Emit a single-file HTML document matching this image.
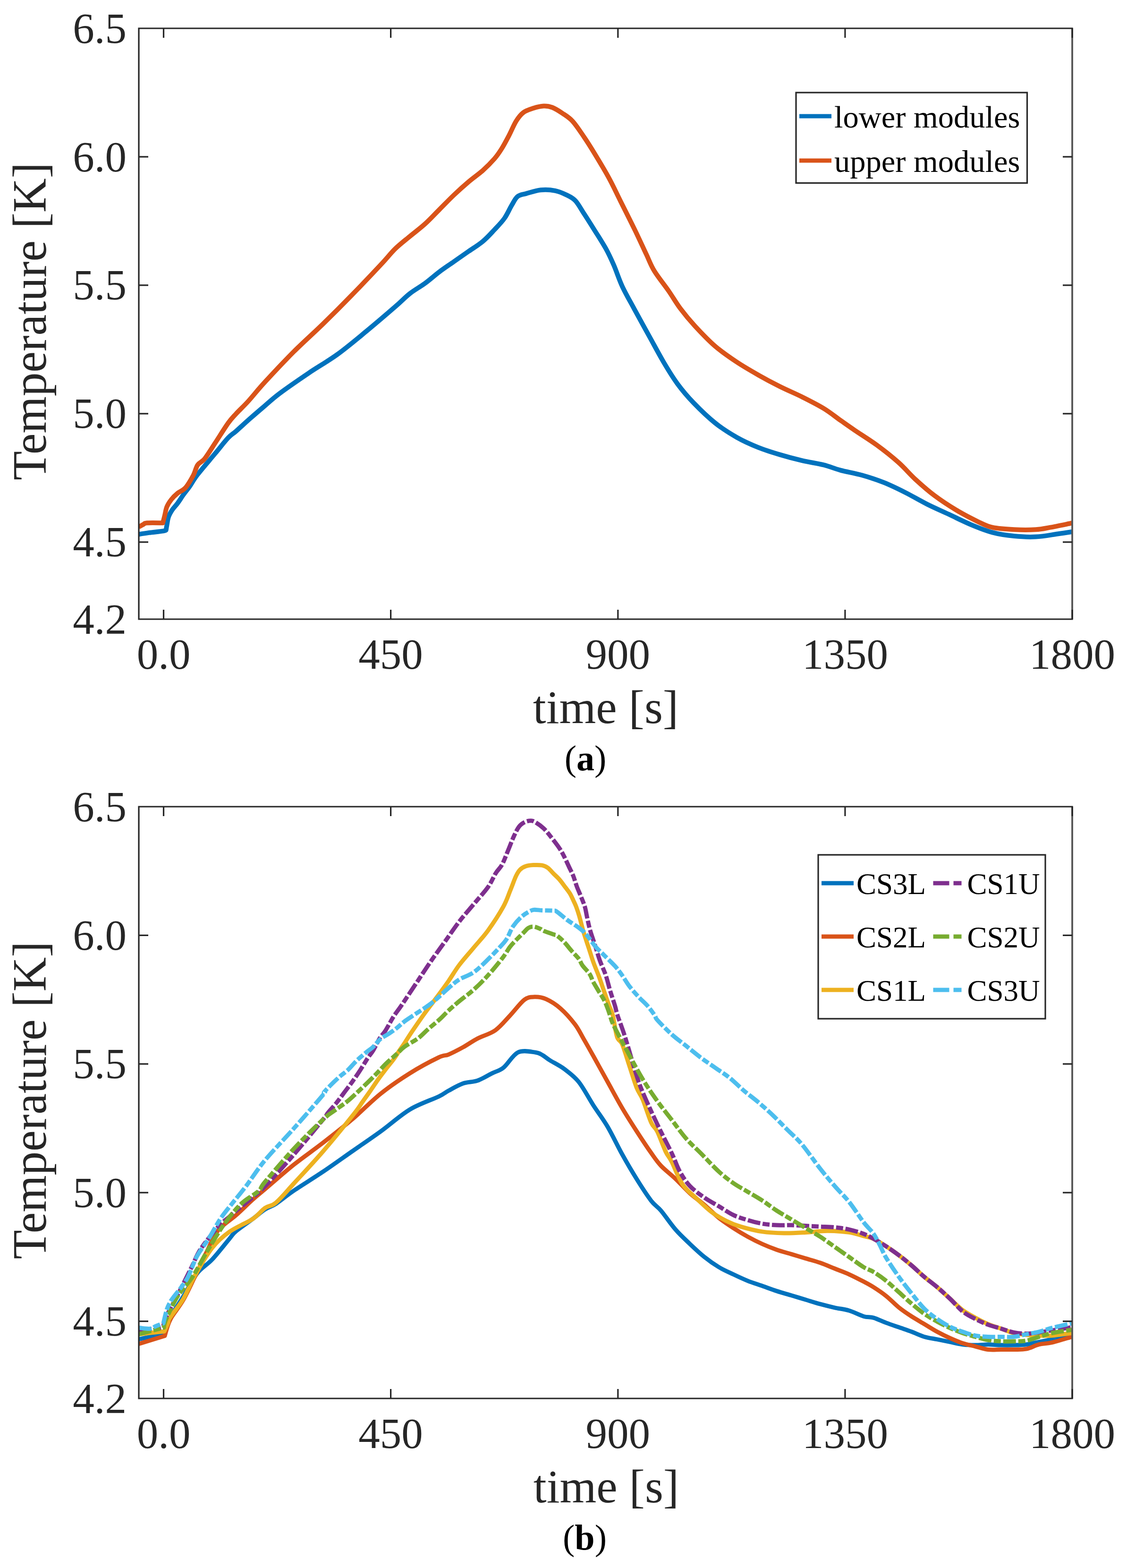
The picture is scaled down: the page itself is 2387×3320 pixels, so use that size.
<!DOCTYPE html>
<html><head><meta charset="utf-8"><title>Temperature plots</title>
<style>
html,body{margin:0;padding:0;background:#fff;}
svg{display:block;}
.t{font-family:"Liberation Serif","Times New Roman",serif;}
</style></head>
<body>
<svg width="2387" height="3320" viewBox="0 0 2387 3320">
<rect width="2387" height="3320" fill="#fff"/>
<defs>
<clipPath id="ca"><rect x="294" y="60" width="1977" height="1251"/></clipPath>
<clipPath id="cb"><rect x="294" y="1708" width="1977" height="1253"/></clipPath>
</defs>
<!-- ===== plot (a) ===== -->
<g clip-path="url(#ca)" fill="none" stroke-width="10" stroke-linejoin="round" stroke-linecap="butt">
<path d="M294.0,1131.3 C297.6,1130.7 307.2,1129.1 315.8,1127.9 C324.4,1126.8 339.8,1125.4 345.8,1124.4 C351.8,1123.4 351.8,1121.9 351.8,1121.9 C351.8,1121.9 352.6,1116.1 353.5,1111.5 C354.4,1106.9 355.1,1099.7 357.0,1094.4 C358.9,1089.1 361.6,1084.5 364.7,1079.8 C367.8,1075.1 371.8,1071.4 375.8,1066.0 C379.8,1060.6 384.4,1053.2 388.7,1047.2 C393.0,1041.2 396.6,1037.1 401.6,1030.0 C406.6,1022.9 409.7,1016.1 418.7,1004.5 C427.7,992.9 444.8,973.3 455.5,960.4 C466.2,947.5 475.7,935.1 483.1,927.2 C490.5,919.3 492.1,919.9 500.0,912.9 C507.9,905.9 521.2,893.6 530.7,885.3 C540.2,877.0 546.5,871.6 556.7,862.9 C566.9,854.2 575.9,845.3 592.0,833.2 C608.1,821.1 632.9,804.1 653.3,790.3 C673.7,776.5 694.2,765.2 714.6,750.4 C735.0,735.6 755.5,718.2 775.9,701.4 C796.3,684.5 821.9,662.6 837.2,649.3 C852.5,636.0 857.4,629.9 867.9,621.7 C878.4,613.5 889.5,607.7 900.0,600.0 C910.5,592.3 920.5,583.2 930.7,575.5 C940.9,567.8 951.1,561.2 961.3,554.0 C971.5,546.8 981.8,539.6 992.0,532.5 C1002.2,525.4 1013.4,518.8 1022.6,511.1 C1031.8,503.5 1039.4,494.8 1047.1,486.6 C1054.8,478.4 1062.5,470.7 1068.6,462.0 C1074.7,453.3 1079.3,442.0 1083.9,434.4 C1088.5,426.8 1091.1,420.2 1096.2,416.1 C1101.3,412.0 1106.4,412.2 1114.6,409.9 C1122.8,407.6 1135.0,403.3 1145.2,402.3 C1155.4,401.3 1166.7,402.0 1175.9,403.8 C1185.1,405.6 1193.2,409.4 1200.4,413.0 C1207.6,416.6 1212.7,418.6 1218.8,425.2 C1224.9,431.8 1230.5,442.6 1237.2,452.8 C1243.9,463.0 1251.0,474.3 1258.7,486.6 C1266.4,498.9 1276.3,514.0 1283.2,526.4 C1290.1,538.8 1294.1,547.8 1300.0,561.3 C1305.9,574.8 1311.2,592.0 1318.4,607.3 C1325.6,622.6 1333.2,635.4 1342.9,653.3 C1352.6,671.2 1365.9,695.2 1376.6,714.6 C1387.3,734.0 1397.6,753.4 1407.3,769.8 C1417.0,786.1 1424.7,798.9 1434.9,812.7 C1445.1,826.5 1455.3,838.7 1468.6,852.5 C1481.9,866.3 1499.3,883.2 1514.6,895.5 C1529.9,907.8 1545.3,917.4 1560.6,926.1 C1575.9,934.8 1591.3,941.5 1606.6,947.6 C1621.9,953.7 1637.2,958.3 1652.5,962.9 C1667.8,967.5 1683.2,971.6 1698.5,975.2 C1713.8,978.8 1730.9,981.0 1744.5,984.4 C1758.1,987.8 1766.4,992.0 1780.0,995.6 C1793.6,999.2 1810.7,1001.9 1826.0,1006.3 C1841.3,1010.6 1856.7,1015.6 1872.0,1021.7 C1887.3,1027.8 1902.7,1035.4 1918.0,1043.1 C1933.3,1050.8 1948.6,1060.0 1963.9,1067.7 C1979.2,1075.4 1994.6,1081.9 2009.9,1089.1 C2025.2,1096.2 2040.6,1104.2 2055.9,1110.6 C2071.2,1117.0 2086.6,1123.3 2101.9,1127.4 C2117.2,1131.5 2132.6,1133.6 2147.9,1135.1 C2163.2,1136.6 2178.6,1137.4 2193.9,1136.6 C2209.2,1135.8 2227.0,1132.3 2239.8,1130.5 C2252.6,1128.7 2265.4,1126.7 2270.5,1125.9" stroke="#0072BD"/>
<path d="M294.0,1115.8 C295.5,1115.0 300.0,1112.1 302.9,1110.7 C305.8,1109.3 304.5,1107.9 311.5,1107.3 C318.5,1106.7 344.9,1107.3 344.9,1107.3 C344.9,1107.3 347.8,1095.8 349.2,1090.1 C350.6,1084.4 351.2,1078.3 353.5,1072.9 C355.8,1067.5 359.3,1062.2 363.0,1057.5 C366.7,1052.8 370.8,1048.8 375.8,1044.6 C380.8,1040.4 387.4,1039.0 393.0,1032.6 C398.6,1026.2 405.2,1014.3 409.5,1006.3 C413.8,998.2 414.7,990.1 418.7,984.3 C422.7,978.5 427.4,979.1 433.5,971.4 C439.6,963.7 447.2,950.9 455.5,938.3 C463.8,925.7 475.7,906.4 483.1,896.0 C490.5,885.6 492.9,883.8 500.0,876.1 C507.1,868.4 515.2,861.2 525.4,850.0 C535.6,838.8 545.1,826.3 561.3,808.7 C577.5,791.1 602.2,764.7 622.6,744.3 C643.0,723.9 663.5,706.0 683.9,686.1 C704.3,666.2 724.8,645.7 745.2,624.7 C765.7,603.8 791.3,576.8 806.6,560.4 C821.9,544.0 827.0,536.6 837.2,526.6 C847.4,516.6 857.4,509.3 867.9,500.6 C878.4,491.9 889.5,483.8 900.0,474.3 C910.5,464.8 920.5,453.8 930.7,443.6 C940.9,433.4 951.1,422.7 961.3,413.0 C971.5,403.3 981.8,394.1 992.0,385.4 C1002.2,376.7 1013.4,369.1 1022.6,360.9 C1031.8,352.7 1040.4,344.0 1047.1,336.3 C1053.8,328.6 1057.4,323.1 1062.5,314.9 C1067.6,306.7 1072.7,297.0 1077.8,287.3 C1082.9,277.6 1088.0,264.8 1093.1,256.6 C1098.2,248.4 1102.4,242.8 1108.5,238.2 C1114.6,233.6 1122.8,231.3 1129.9,229.0 C1137.1,226.7 1144.8,224.8 1151.4,224.5 C1158.1,224.2 1163.2,224.9 1169.8,227.5 C1176.4,230.1 1184.0,235.0 1191.2,239.8 C1198.4,244.7 1205.0,248.2 1212.7,256.6 C1220.4,265.0 1229.5,279.1 1237.2,290.4 C1244.9,301.6 1250.0,309.8 1258.7,324.1 C1267.4,338.4 1280.1,359.4 1289.3,376.2 C1298.5,393.0 1304.7,406.8 1313.9,425.2 C1323.1,443.6 1335.3,467.7 1344.5,486.6 C1353.7,505.5 1362.1,524.2 1369.0,538.7 C1375.9,553.2 1377.9,560.6 1385.8,573.6 C1393.7,586.6 1407.3,603.2 1416.5,616.5 C1425.7,629.8 1431.8,641.0 1441.0,653.3 C1450.2,665.6 1459.4,676.8 1471.7,690.1 C1484.0,703.4 1499.8,720.2 1514.6,733.0 C1529.4,745.8 1545.3,756.5 1560.6,766.7 C1575.9,776.9 1591.3,785.6 1606.6,794.3 C1621.9,803.0 1637.2,811.1 1652.5,818.8 C1667.8,826.5 1683.2,832.6 1698.5,840.3 C1713.8,848.0 1730.9,856.5 1744.5,864.8 C1758.1,873.1 1769.0,882.1 1780.0,889.9 C1791.0,897.6 1797.9,902.6 1810.7,911.3 C1823.5,920.0 1841.3,930.8 1856.6,942.0 C1871.9,953.2 1888.8,966.5 1902.6,978.8 C1916.4,991.0 1926.6,1003.8 1939.4,1015.5 C1952.2,1027.2 1965.0,1038.6 1979.3,1049.3 C1993.6,1060.0 2009.9,1070.7 2025.2,1079.9 C2040.5,1089.1 2058.4,1098.3 2071.2,1104.4 C2084.0,1110.5 2089.1,1113.9 2101.9,1116.7 C2114.7,1119.5 2132.6,1120.5 2147.9,1121.3 C2163.2,1122.1 2181.1,1122.1 2193.9,1121.3 C2206.7,1120.5 2211.7,1119.0 2224.5,1116.7 C2237.3,1114.4 2262.8,1109.0 2270.5,1107.5" stroke="#D95319"/>
</g>
<g stroke="#262626" stroke-width="3.2" fill="none">
<line x1="2271" y1="60" x2="2271" y2="1311" stroke="#555" stroke-width="3.8"/>
<line x1="346.5" y1="1311" x2="346.5" y2="1291"/>
<line x1="346.5" y1="60" x2="346.5" y2="80"/>
<line x1="827.6" y1="1311" x2="827.6" y2="1291"/>
<line x1="827.6" y1="60" x2="827.6" y2="80"/>
<line x1="1308.8" y1="1311" x2="1308.8" y2="1291"/>
<line x1="1308.8" y1="60" x2="1308.8" y2="80"/>
<line x1="1789.9" y1="1311" x2="1789.9" y2="1291"/>
<line x1="1789.9" y1="60" x2="1789.9" y2="80"/>
<line x1="2271.0" y1="1311" x2="2271.0" y2="1291"/>
<line x1="2271.0" y1="60" x2="2271.0" y2="80"/>
<line x1="294" y1="1147.8" x2="314" y2="1147.8"/>
<line x1="2271" y1="1147.8" x2="2251" y2="1147.8"/>
<line x1="294" y1="875.9" x2="314" y2="875.9"/>
<line x1="2271" y1="875.9" x2="2251" y2="875.9"/>
<line x1="294" y1="603.9" x2="314" y2="603.9"/>
<line x1="2271" y1="603.9" x2="2251" y2="603.9"/>
<line x1="294" y1="332.0" x2="314" y2="332.0"/>
<line x1="2271" y1="332.0" x2="2251" y2="332.0"/>
<path d="M2272.6,60 H294 V1311 H2272.6" fill="none"/>
</g>
<g class="t" fill="#262626" font-size="91">
<text x="268" y="1341.5" text-anchor="end">4.2</text>
<text x="268" y="1178.3" text-anchor="end">4.5</text>
<text x="268" y="906.4" text-anchor="end">5.0</text>
<text x="268" y="634.4" text-anchor="end">5.5</text>
<text x="268" y="362.5" text-anchor="end">6.0</text>
<text x="268" y="90.5" text-anchor="end">6.5</text>
<text x="346.5" y="1416.0" text-anchor="middle">0.0</text>
<text x="827.6" y="1416.0" text-anchor="middle">450</text>
<text x="1308.8" y="1416.0" text-anchor="middle">900</text>
<text x="1789.9" y="1416.0" text-anchor="middle">1350</text>
<text x="2271.0" y="1416.0" text-anchor="middle">1800</text>
</g>
<text class="t" x="1283" y="1531" font-size="100" fill="#262626" text-anchor="middle">time [s]</text>
<text class="t" transform="translate(97,680.3) rotate(-90)" font-size="100.8" fill="#262626" text-anchor="middle">Temperature [K]</text>
<text class="t" x="1240" y="1631" font-size="76" fill="#000" text-anchor="middle">(<tspan font-weight="bold">a</tspan>)</text>
<!-- legend a -->
<rect x="1686" y="196" width="489.5" height="191.5" fill="#fff" stroke="#262626" stroke-width="3.2"/>
<line x1="1693" y1="246" x2="1761" y2="246" stroke="#0072BD" stroke-width="9.0"/>
<line x1="1693" y1="340" x2="1761" y2="340" stroke="#D95319" stroke-width="9.0"/>
<g class="t" font-size="66.5" fill="#000">
<text x="1767" y="270">lower modules</text>
<text x="1767" y="364">upper modules</text>
</g>
<!-- ===== plot (b) ===== -->
<g clip-path="url(#cb)" fill="none" stroke-width="9.0" stroke-linejoin="round" stroke-linecap="butt">
<path d="M294.0,2835.5 C303.2,2833.6 349.0,2824.0 349.0,2824.0 C349.0,2824.0 349.7,2810.1 356.2,2797.0 C362.7,2783.9 377.9,2762.0 388.1,2745.2 C398.3,2728.4 407.3,2709.3 417.5,2696.2 C427.7,2683.1 437.9,2679.1 449.4,2666.8 C460.8,2654.5 477.8,2632.6 486.2,2622.6 C494.6,2612.6 491.8,2613.8 500.0,2606.8 C508.2,2599.9 525.0,2588.6 535.2,2580.9 C545.4,2573.2 553.1,2566.1 561.3,2560.8 C569.5,2555.5 574.1,2555.7 584.3,2549.0 C594.5,2542.3 606.0,2532.2 622.6,2520.9 C639.2,2509.6 663.5,2494.9 683.9,2481.1 C704.3,2467.3 724.8,2452.5 745.2,2438.2 C765.7,2423.9 786.2,2410.1 806.6,2395.3 C827.0,2380.5 847.5,2361.6 867.9,2349.3 C888.3,2337.0 915.5,2328.3 929.2,2321.7 C942.9,2315.0 941.4,2314.0 950.0,2309.4 C958.6,2304.8 970.5,2297.7 980.7,2294.1 C990.9,2290.5 1001.1,2291.6 1011.3,2288.0 C1021.5,2284.4 1032.8,2277.2 1042.0,2272.6 C1051.2,2268.0 1057.3,2267.8 1066.5,2260.4 C1075.7,2253.0 1085.9,2233.6 1097.1,2228.2 C1108.3,2222.8 1125.2,2227.2 1133.9,2228.2 C1142.6,2229.2 1144.2,2231.5 1149.3,2234.3 C1154.4,2237.1 1156.9,2240.2 1164.6,2245.0 C1172.2,2249.8 1185.0,2255.7 1195.2,2263.4 C1205.4,2271.1 1215.7,2278.2 1225.9,2291.0 C1236.1,2303.8 1246.4,2324.2 1256.6,2340.1 C1266.8,2355.9 1277.0,2368.7 1287.2,2386.1 C1297.4,2403.5 1307.7,2425.9 1317.9,2444.3 C1328.1,2462.7 1338.3,2480.1 1348.5,2496.4 C1358.7,2512.8 1370.6,2531.2 1379.2,2542.4 C1387.8,2553.6 1391.4,2553.2 1400.0,2563.4 C1408.6,2573.6 1420.5,2591.6 1430.7,2603.3 C1440.9,2615.1 1451.1,2624.2 1461.3,2633.9 C1471.5,2643.6 1481.8,2653.3 1492.0,2661.5 C1502.2,2669.7 1512.4,2676.9 1522.6,2683.0 C1532.8,2689.1 1543.1,2693.5 1553.3,2698.3 C1563.5,2703.2 1573.7,2708.0 1583.9,2712.1 C1594.1,2716.2 1604.4,2719.2 1614.6,2722.8 C1624.8,2726.4 1635.0,2730.3 1645.2,2733.6 C1655.4,2736.9 1665.7,2739.7 1675.9,2742.8 C1686.1,2745.9 1696.4,2748.9 1706.6,2752.0 C1716.8,2755.1 1727.0,2758.4 1737.2,2761.2 C1747.4,2764.0 1757.7,2766.5 1767.9,2768.8 C1778.1,2771.1 1788.3,2771.9 1798.5,2775.0 C1808.7,2778.1 1820.6,2784.7 1829.2,2787.2 C1837.8,2789.7 1842.0,2787.8 1850.0,2790.1 C1858.0,2792.4 1868.0,2797.5 1877.0,2800.9 C1886.0,2804.3 1895.0,2807.2 1904.0,2810.3 C1913.0,2813.5 1921.9,2816.4 1930.9,2819.8 C1939.9,2823.2 1948.9,2827.8 1957.9,2830.5 C1966.9,2833.2 1975.9,2834.1 1984.9,2835.9 C1993.9,2837.7 2002.9,2839.5 2011.9,2841.3 C2020.9,2843.1 2029.8,2845.6 2038.8,2846.7 C2047.8,2847.8 2056.8,2848.1 2065.8,2848.1 C2074.8,2848.1 2083.8,2846.7 2092.8,2846.7 C2101.8,2846.7 2110.8,2847.9 2119.8,2848.1 C2128.8,2848.3 2137.7,2848.3 2146.7,2848.1 C2155.7,2847.9 2164.7,2847.8 2173.7,2846.7 C2182.7,2845.6 2191.7,2843.1 2200.7,2841.3 C2209.7,2839.5 2218.7,2837.7 2227.7,2835.9 C2236.7,2834.1 2247.5,2831.8 2254.6,2830.5 C2261.7,2829.2 2267.4,2828.3 2270.0,2827.9" stroke="#0072BD"/>
<path d="M294.0,2845.5 C303.2,2842.7 349.0,2828.5 349.0,2828.5 C349.0,2828.5 353.6,2811.8 356.1,2805.0 C358.6,2798.2 358.8,2796.7 364.1,2788.0 C369.4,2779.3 380.0,2766.7 388.1,2752.6 C396.2,2738.5 404.4,2720.3 412.6,2703.6 C420.8,2686.8 428.9,2668.4 437.1,2652.1 C445.3,2635.8 451.2,2618.7 461.7,2605.5 C472.2,2592.3 487.8,2583.9 500.0,2573.0 C512.2,2562.1 525.0,2549.2 535.2,2540.0 C545.4,2530.8 546.7,2530.3 561.3,2517.9 C575.9,2505.5 602.2,2482.2 622.6,2465.8 C643.0,2449.5 663.5,2435.7 683.9,2419.8 C704.3,2404.0 724.8,2388.1 745.2,2370.7 C765.7,2353.3 786.2,2331.8 806.6,2315.5 C827.0,2299.2 847.5,2285.4 867.9,2272.6 C888.3,2259.8 915.5,2245.5 929.2,2238.9 C942.9,2232.3 941.4,2236.4 950.0,2232.8 C958.6,2229.2 970.5,2223.0 980.7,2217.4 C990.9,2211.8 999.9,2205.0 1011.3,2199.0 C1022.7,2193.0 1037.9,2189.4 1049.3,2181.3 C1060.7,2173.2 1069.7,2161.3 1079.9,2150.6 C1090.1,2139.9 1101.9,2123.5 1110.6,2116.9 C1119.3,2110.3 1124.3,2111.1 1132.0,2110.8 C1139.7,2110.6 1147.4,2111.3 1156.6,2115.4 C1165.8,2119.5 1177.0,2126.4 1187.2,2135.3 C1197.4,2144.2 1209.7,2158.2 1217.9,2169.0 C1226.1,2179.8 1229.8,2188.9 1236.3,2200.0 C1242.8,2211.1 1248.1,2220.6 1256.6,2235.8 C1265.1,2251.0 1277.0,2272.6 1287.2,2291.0 C1297.4,2309.4 1307.7,2328.8 1317.9,2346.2 C1328.1,2363.6 1338.3,2379.4 1348.5,2395.2 C1358.7,2411.0 1370.6,2429.0 1379.2,2441.2 C1387.8,2453.4 1391.4,2459.3 1400.0,2468.4 C1408.6,2477.5 1420.5,2486.3 1430.7,2496.0 C1440.9,2505.7 1451.1,2517.4 1461.3,2526.6 C1471.5,2535.8 1481.8,2542.5 1492.0,2551.2 C1502.2,2559.9 1512.4,2570.6 1522.6,2578.8 C1532.8,2587.0 1543.1,2593.6 1553.3,2600.2 C1563.5,2606.8 1573.7,2613.0 1583.9,2618.6 C1594.1,2624.2 1604.4,2629.4 1614.6,2634.0 C1624.8,2638.6 1635.0,2642.6 1645.2,2646.2 C1655.4,2649.8 1665.7,2652.3 1675.9,2655.4 C1686.1,2658.5 1696.4,2661.5 1706.6,2664.6 C1716.8,2667.7 1727.0,2670.2 1737.2,2673.8 C1747.4,2677.4 1757.7,2681.9 1767.9,2686.0 C1778.1,2690.1 1788.3,2693.7 1798.5,2698.3 C1808.7,2702.9 1820.6,2709.1 1829.2,2713.6 C1837.8,2718.1 1842.0,2720.2 1850.0,2725.3 C1858.0,2730.4 1868.0,2737.0 1877.0,2744.2 C1886.0,2751.4 1895.0,2761.3 1904.0,2768.5 C1913.0,2775.7 1921.9,2781.6 1930.9,2787.4 C1939.9,2793.2 1948.9,2798.2 1957.9,2803.6 C1966.9,2809.0 1975.9,2814.9 1984.9,2819.8 C1993.9,2824.7 2002.9,2829.2 2011.9,2833.2 C2020.9,2837.2 2029.8,2841.1 2038.8,2844.0 C2047.8,2846.9 2056.8,2848.6 2065.8,2850.8 C2074.8,2853.1 2083.8,2856.4 2092.8,2857.5 C2101.8,2858.6 2110.8,2857.5 2119.8,2857.5 C2128.8,2857.5 2137.7,2857.7 2146.7,2857.5 C2155.7,2857.3 2164.7,2858.0 2173.7,2856.2 C2182.7,2854.4 2191.7,2848.9 2200.7,2846.7 C2209.7,2844.4 2216.1,2845.4 2227.7,2842.7 C2239.2,2840.0 2262.9,2832.5 2270.0,2830.5" stroke="#D95319"/>
<path d="M294.0,2825.0 C303.0,2824.0 348.0,2819.0 348.0,2819.0 C348.0,2819.0 354.0,2805.8 356.0,2801.0 C358.0,2796.2 354.6,2798.5 360.0,2790.0 C365.4,2781.5 379.3,2765.0 388.1,2750.2 C396.9,2735.4 402.4,2719.1 412.6,2701.1 C422.8,2683.1 437.1,2657.7 449.4,2642.2 C461.7,2626.7 471.9,2618.1 486.2,2607.9 C500.5,2597.7 522.7,2589.3 535.2,2580.9 C547.7,2572.5 553.1,2563.4 561.3,2557.7 C569.5,2552.0 574.1,2555.3 584.3,2546.6 C594.5,2537.9 606.0,2523.7 622.6,2505.6 C639.2,2487.5 662.9,2462.5 683.9,2438.2 C704.9,2413.9 734.3,2377.7 748.4,2360.0 C762.5,2342.3 762.2,2340.8 768.3,2332.3 C774.4,2323.8 779.3,2317.0 784.8,2309.1 C790.3,2301.2 795.9,2292.5 801.4,2284.8 C806.9,2277.1 812.5,2270.0 818.0,2262.8 C823.5,2255.6 829.9,2248.1 834.5,2241.8 C839.1,2235.5 841.8,2230.5 845.5,2225.0 C849.2,2219.5 852.4,2215.3 856.6,2209.0 C860.8,2202.7 863.8,2197.3 870.7,2187.0 C877.7,2176.7 889.1,2159.9 898.3,2147.1 C907.5,2134.3 917.3,2122.1 925.9,2110.4 C934.5,2098.8 942.2,2088.4 950.0,2077.2 C957.8,2066.0 963.7,2055.2 972.6,2043.4 C981.5,2031.6 993.1,2018.9 1003.3,2006.6 C1013.5,1994.3 1023.5,1984.2 1033.9,1969.8 C1044.3,1955.4 1058.1,1934.0 1065.9,1920.0 C1073.7,1906.0 1076.2,1896.3 1080.7,1885.5 C1085.2,1874.7 1089.4,1862.2 1092.9,1854.9 C1096.4,1847.6 1098.0,1844.9 1101.5,1841.4 C1105.0,1837.9 1109.1,1835.6 1113.8,1834.0 C1118.5,1832.4 1124.0,1831.9 1129.7,1831.6 C1135.4,1831.3 1143.0,1831.2 1148.1,1832.2 C1153.2,1833.2 1156.3,1834.7 1160.4,1837.7 C1164.5,1840.7 1168.5,1845.9 1172.6,1850.0 C1176.7,1854.1 1180.8,1857.5 1184.9,1862.2 C1189.0,1866.9 1193.4,1873.3 1197.1,1878.2 C1200.8,1883.1 1204.1,1887.0 1207.0,1891.7 C1209.9,1896.4 1212.1,1901.7 1214.3,1906.4 C1216.5,1911.1 1218.3,1914.4 1220.4,1920.0 C1222.5,1925.6 1224.4,1931.1 1227.0,1940.0 C1229.6,1948.9 1232.7,1962.4 1236.0,1973.6 C1239.3,1984.8 1243.5,1996.6 1247.0,2007.3 C1250.5,2018.0 1253.3,2027.8 1257.0,2038.0 C1260.7,2048.2 1265.2,2058.4 1269.0,2068.6 C1272.8,2078.8 1276.0,2089.1 1279.6,2099.3 C1283.2,2109.5 1287.3,2121.5 1290.4,2129.9 C1293.5,2138.3 1295.3,2139.2 1298.0,2150.0 C1300.7,2160.8 1303.5,2184.8 1306.8,2195.0 C1310.1,2205.2 1313.5,2200.9 1317.9,2211.3 C1322.3,2221.7 1328.1,2242.0 1333.2,2257.3 C1338.3,2272.6 1343.8,2291.5 1348.5,2303.3 C1353.2,2315.1 1356.2,2315.7 1361.3,2328.0 C1366.4,2340.3 1374.1,2365.7 1379.2,2376.9 C1384.3,2388.2 1386.9,2385.3 1392.0,2395.5 C1397.1,2405.7 1404.7,2427.5 1409.8,2438.2 C1414.9,2448.9 1416.6,2448.1 1422.6,2459.8 C1428.6,2471.5 1437.0,2495.0 1446.0,2508.2 C1455.0,2521.4 1466.4,2529.2 1476.6,2538.9 C1486.8,2548.6 1497.1,2558.8 1507.3,2566.5 C1517.5,2574.2 1527.8,2579.8 1538.0,2584.9 C1548.2,2590.0 1555.8,2593.3 1568.6,2597.1 C1581.4,2600.9 1599.3,2605.6 1614.6,2607.9 C1629.9,2610.2 1645.3,2610.7 1660.6,2610.9 C1675.9,2611.2 1691.3,2610.2 1706.6,2609.4 C1721.9,2608.6 1737.2,2606.3 1752.5,2606.3 C1767.8,2606.3 1785.7,2607.6 1798.5,2609.4 C1811.3,2611.2 1820.6,2614.9 1829.2,2617.1 C1837.8,2619.3 1842.0,2619.2 1850.0,2622.8 C1858.0,2626.5 1868.0,2633.2 1877.0,2639.0 C1886.0,2644.8 1895.0,2651.2 1904.0,2657.9 C1913.0,2664.7 1921.9,2671.8 1930.9,2679.5 C1939.9,2687.2 1948.9,2696.2 1957.9,2703.8 C1966.9,2711.4 1975.9,2717.7 1984.9,2725.3 C1993.9,2732.9 2002.9,2741.5 2011.9,2749.6 C2020.9,2757.7 2029.8,2767.2 2038.8,2773.9 C2047.8,2780.7 2056.8,2785.2 2065.8,2790.1 C2074.8,2795.0 2083.8,2799.8 2092.8,2803.6 C2101.8,2807.4 2110.8,2809.8 2119.8,2813.0 C2128.8,2816.2 2137.7,2820.2 2146.7,2822.5 C2155.7,2824.8 2164.7,2825.6 2173.7,2826.5 C2182.7,2827.4 2191.7,2827.7 2200.7,2827.9 C2209.7,2828.1 2216.1,2828.8 2227.7,2827.9 C2239.2,2827.0 2262.9,2823.4 2270.0,2822.5" stroke="#EDB120"/>
<path d="M294.0,2816.5 C301.7,2815.7 331.3,2813.1 340.0,2811.5 C348.7,2809.9 346.0,2807.0 346.0,2807.0 C346.0,2807.0 348.8,2794.7 353.8,2784.0 C358.8,2773.3 367.2,2759.5 375.8,2742.8 C384.4,2726.1 397.1,2700.2 405.3,2683.9 C413.5,2667.6 415.5,2659.0 424.9,2644.7 C434.3,2630.4 451.5,2609.5 461.7,2598.1 C471.9,2586.7 479.8,2581.7 486.2,2576.0 C492.6,2570.3 491.8,2570.7 500.0,2563.9 C508.2,2557.1 525.0,2543.7 535.2,2535.0 C545.4,2526.3 546.7,2526.8 561.3,2511.7 C575.9,2496.6 602.2,2467.8 622.6,2444.3 C643.0,2420.8 672.0,2385.3 683.9,2370.7 C695.8,2356.1 689.4,2362.6 694.3,2356.6 C699.2,2350.6 707.2,2341.9 713.1,2334.5 C719.0,2327.1 724.2,2319.8 729.7,2312.4 C735.2,2305.1 740.7,2298.1 746.2,2290.4 C751.7,2282.7 757.3,2274.6 762.8,2266.1 C768.3,2257.6 774.7,2246.6 779.3,2239.6 C783.9,2232.6 786.2,2231.1 790.4,2224.1 C794.6,2217.1 800.5,2204.5 804.7,2197.7 C808.9,2190.9 810.8,2190.9 815.7,2183.3 C820.6,2175.7 828.2,2161.0 833.9,2152.0 C839.6,2143.0 842.2,2140.7 850.0,2129.2 C857.8,2117.7 870.5,2098.5 880.7,2083.2 C890.9,2067.9 901.1,2052.0 911.3,2037.2 C921.5,2022.4 931.8,2008.6 942.0,1994.3 C952.2,1980.0 962.4,1964.7 972.6,1951.4 C982.8,1938.1 993.1,1926.9 1003.3,1914.6 C1013.5,1902.3 1026.1,1888.8 1033.9,1877.8 C1041.7,1866.8 1045.1,1856.7 1050.0,1848.8 C1054.9,1840.9 1059.0,1838.8 1063.5,1830.4 C1068.0,1822.0 1072.9,1808.3 1077.0,1798.5 C1081.1,1788.7 1084.3,1779.5 1088.0,1771.5 C1091.7,1763.5 1095.1,1755.8 1099.0,1750.7 C1102.9,1745.6 1107.0,1743.0 1111.3,1740.8 C1115.6,1738.6 1120.7,1737.6 1124.8,1737.8 C1128.9,1738.0 1131.3,1739.3 1135.8,1742.1 C1140.3,1744.8 1146.7,1749.4 1151.8,1754.3 C1156.9,1759.2 1161.0,1764.5 1166.5,1771.5 C1172.0,1778.5 1180.2,1789.0 1184.9,1796.0 C1189.6,1803.0 1191.2,1806.5 1194.7,1813.2 C1198.2,1820.0 1202.4,1829.5 1205.7,1836.5 C1209.0,1843.5 1211.6,1848.2 1214.3,1854.9 C1217.0,1861.7 1219.0,1869.8 1221.7,1877.0 C1224.4,1884.2 1227.5,1890.6 1230.3,1897.8 C1233.1,1905.0 1236.7,1913.0 1238.8,1920.0 C1240.9,1927.0 1241.2,1931.8 1243.0,1940.0 C1244.8,1948.2 1246.9,1959.1 1249.7,1969.0 C1252.5,1978.9 1256.2,1988.9 1259.7,1999.6 C1263.2,2010.3 1266.6,2022.7 1270.4,2033.4 C1274.2,2044.1 1279.1,2053.5 1282.7,2064.0 C1286.3,2074.5 1288.6,2085.2 1291.9,2096.2 C1295.2,2107.2 1299.9,2120.9 1302.6,2129.9 C1305.3,2138.9 1304.4,2139.0 1308.0,2150.0 C1311.6,2161.0 1317.7,2176.0 1324.0,2196.0 C1330.3,2216.0 1339.8,2250.4 1346.0,2269.8 C1352.2,2289.2 1353.6,2294.3 1361.3,2312.7 C1369.0,2331.1 1381.8,2358.6 1392.0,2380.1 C1402.2,2401.6 1414.6,2424.6 1422.6,2441.4 C1430.6,2458.2 1433.5,2469.0 1439.9,2480.7 C1446.4,2492.3 1452.6,2502.1 1461.3,2511.3 C1470.0,2520.5 1481.8,2528.7 1492.0,2535.8 C1502.2,2543.0 1512.4,2548.1 1522.6,2554.2 C1532.8,2560.3 1543.1,2567.7 1553.3,2572.6 C1563.5,2577.5 1573.7,2580.3 1583.9,2583.4 C1594.1,2586.5 1604.4,2589.2 1614.6,2591.0 C1624.8,2592.8 1635.0,2593.6 1645.2,2594.1 C1655.4,2594.6 1665.7,2593.8 1675.9,2594.1 C1686.1,2594.3 1696.4,2595.1 1706.6,2595.6 C1716.8,2596.1 1727.0,2596.6 1737.2,2597.1 C1747.4,2597.6 1757.7,2597.7 1767.9,2598.7 C1778.1,2599.7 1788.3,2601.0 1798.5,2603.3 C1808.7,2605.6 1820.6,2609.2 1829.2,2612.5 C1837.8,2615.8 1842.0,2618.4 1850.0,2622.8 C1858.0,2627.2 1868.0,2633.2 1877.0,2639.0 C1886.0,2644.8 1895.0,2651.2 1904.0,2657.9 C1913.0,2664.7 1921.9,2671.8 1930.9,2679.5 C1939.9,2687.2 1948.9,2696.2 1957.9,2703.8 C1966.9,2711.4 1975.9,2717.7 1984.9,2725.3 C1993.9,2732.9 2002.9,2741.1 2011.9,2749.6 C2020.9,2758.1 2029.8,2769.4 2038.8,2776.6 C2047.8,2783.8 2056.8,2788.1 2065.8,2792.8 C2074.8,2797.5 2083.8,2801.5 2092.8,2804.9 C2101.8,2808.3 2110.8,2810.3 2119.8,2813.0 C2128.8,2815.7 2137.7,2819.3 2146.7,2821.1 C2155.7,2822.9 2164.7,2823.8 2173.7,2823.8 C2182.7,2823.8 2191.7,2822.2 2200.7,2821.1 C2209.7,2820.0 2216.1,2818.9 2227.7,2817.1 C2239.2,2815.3 2262.9,2811.4 2270.0,2810.3" stroke="#7E2F8E" stroke-dasharray="27 5 15 5"/>
<path d="M294.0,2825.0 C300.0,2823.4 321.2,2817.6 330.0,2815.3 C338.8,2813.0 347.0,2811.0 347.0,2811.0 C347.0,2811.0 347.7,2803.0 352.5,2792.0 C357.3,2781.0 366.6,2759.9 375.8,2745.2 C385.0,2730.5 397.5,2719.1 407.7,2703.6 C417.9,2688.1 426.1,2670.5 437.1,2652.1 C448.1,2633.7 461.6,2610.4 473.9,2593.2 C486.2,2576.0 498.4,2560.8 510.7,2549.0 C523.0,2537.2 539.1,2529.8 547.5,2522.1 C555.9,2514.3 548.8,2517.5 561.3,2502.5 C573.8,2487.5 602.2,2454.0 622.6,2432.0 C643.0,2410.0 669.7,2384.0 683.9,2370.7 C698.1,2357.4 699.0,2358.6 707.6,2352.2 C716.2,2345.8 726.9,2338.9 735.2,2332.3 C743.5,2325.7 749.9,2319.2 757.3,2312.4 C764.6,2305.6 772.5,2298.1 779.3,2291.5 C786.1,2284.9 791.7,2279.3 798.1,2272.7 C804.5,2266.1 810.9,2258.5 817.9,2251.7 C824.9,2244.9 833.5,2237.8 840.0,2231.9 C846.5,2226.0 849.0,2222.0 856.6,2216.4 C864.2,2210.8 876.9,2204.9 885.4,2198.6 C893.9,2192.3 899.8,2185.1 907.5,2178.4 C915.2,2171.7 924.3,2164.6 931.4,2158.2 C938.5,2151.8 943.1,2146.2 950.0,2139.8 C956.9,2133.4 963.7,2127.4 972.6,2120.0 C981.5,2112.6 993.1,2104.7 1003.3,2095.5 C1013.5,2086.3 1023.7,2076.1 1033.9,2064.8 C1044.1,2053.6 1056.9,2038.0 1064.6,2028.0 C1072.3,2018.0 1075.3,2011.2 1080.0,2005.0 C1084.7,1998.8 1088.1,1995.7 1092.9,1990.7 C1097.7,1985.7 1104.6,1979.1 1108.9,1974.8 C1113.2,1970.5 1115.2,1967.2 1118.7,1965.0 C1122.2,1962.8 1125.6,1961.7 1129.7,1961.9 C1133.8,1962.1 1139.5,1964.7 1143.2,1966.2 C1146.9,1967.7 1146.9,1969.0 1151.8,1971.1 C1156.7,1973.1 1167.9,1976.8 1172.6,1978.5 C1177.3,1980.2 1176.2,1978.5 1180.0,1981.2 C1183.8,1984.0 1190.2,1989.6 1195.3,1995.0 C1200.4,2000.4 1205.6,2007.5 1210.7,2013.4 C1215.8,2019.3 1222.2,2025.2 1226.0,2030.3 C1229.8,2035.4 1229.8,2038.7 1233.6,2044.1 C1237.4,2049.5 1245.2,2056.6 1249.0,2062.5 C1252.8,2068.4 1253.5,2073.4 1256.6,2079.3 C1259.7,2085.2 1263.6,2091.3 1267.4,2097.7 C1271.2,2104.1 1276.3,2111.3 1279.6,2117.7 C1282.9,2124.1 1285.2,2130.6 1287.3,2136.0 C1289.4,2141.4 1289.9,2144.1 1292.0,2150.0 C1294.1,2155.9 1293.5,2158.4 1300.0,2171.7 C1306.5,2185.0 1320.5,2211.0 1330.7,2229.9 C1340.9,2248.8 1351.1,2268.2 1361.3,2285.1 C1371.5,2302.0 1381.8,2316.8 1392.0,2331.1 C1402.2,2345.4 1412.4,2357.6 1422.6,2370.9 C1432.8,2384.2 1443.1,2399.1 1453.3,2410.8 C1463.5,2422.6 1472.4,2429.8 1483.9,2441.4 C1495.5,2453.1 1511.0,2470.1 1522.6,2480.7 C1534.2,2491.3 1543.1,2498.0 1553.3,2505.2 C1563.5,2512.3 1573.7,2517.5 1583.9,2523.6 C1594.1,2529.7 1604.4,2535.4 1614.6,2542.0 C1624.8,2548.6 1635.0,2556.8 1645.2,2563.4 C1655.4,2570.0 1665.7,2575.7 1675.9,2581.8 C1686.1,2587.9 1696.4,2594.1 1706.6,2600.2 C1716.8,2606.3 1727.0,2611.9 1737.2,2618.6 C1747.4,2625.2 1757.7,2632.9 1767.9,2640.1 C1778.1,2647.2 1788.3,2654.3 1798.5,2661.5 C1808.7,2668.7 1820.6,2677.8 1829.2,2683.0 C1837.8,2688.2 1842.0,2688.2 1850.0,2693.0 C1858.0,2697.8 1868.0,2704.7 1877.0,2711.9 C1886.0,2719.1 1895.0,2728.0 1904.0,2736.1 C1913.0,2744.2 1921.9,2752.8 1930.9,2760.4 C1939.9,2768.1 1948.9,2775.7 1957.9,2782.0 C1966.9,2788.3 1975.9,2793.2 1984.9,2798.2 C1993.9,2803.1 2002.9,2807.6 2011.9,2811.7 C2020.9,2815.8 2029.8,2819.4 2038.8,2822.5 C2047.8,2825.6 2056.8,2828.0 2065.8,2830.5 C2074.8,2833.0 2083.8,2835.7 2092.8,2837.3 C2101.8,2838.9 2110.8,2839.6 2119.8,2840.0 C2128.8,2840.4 2137.7,2840.2 2146.7,2840.0 C2155.7,2839.8 2164.7,2840.2 2173.7,2838.6 C2182.7,2837.0 2191.7,2833.2 2200.7,2830.5 C2209.7,2827.8 2216.1,2825.0 2227.7,2822.5 C2239.2,2820.0 2262.9,2816.8 2270.0,2815.7" stroke="#77AC30" stroke-dasharray="27 5 15 5"/>
<path d="M294.0,2811.3 C298.0,2811.6 311.8,2813.9 317.8,2813.3 C323.8,2812.8 325.3,2809.9 330.0,2808.0 C334.7,2806.1 346.0,2802.0 346.0,2802.0 C346.0,2802.0 351.0,2779.7 353.5,2772.0 C356.0,2764.3 358.5,2760.5 361.0,2756.0 C363.5,2751.5 362.8,2753.1 368.5,2745.2 C374.2,2737.3 387.3,2722.8 395.5,2708.5 C403.7,2694.2 409.7,2673.7 417.5,2659.4 C425.3,2645.1 433.9,2635.7 442.1,2622.6 C450.3,2609.5 458.4,2593.2 466.6,2580.9 C474.8,2568.6 482.1,2560.4 491.1,2549.0 C500.1,2537.6 508.8,2527.7 520.5,2512.3 C532.2,2496.9 544.3,2477.1 561.3,2456.6 C578.3,2436.1 602.2,2412.1 622.6,2389.1 C643.0,2366.1 673.2,2331.4 683.9,2318.6 C694.6,2305.8 683.6,2316.2 686.6,2312.4 C689.6,2308.6 696.6,2301.4 702.1,2295.9 C707.6,2290.4 713.8,2284.5 719.7,2279.3 C725.6,2274.2 731.5,2270.5 737.4,2265.0 C743.3,2259.5 748.9,2252.1 755.0,2246.2 C761.1,2240.3 767.9,2234.7 773.8,2229.7 C779.7,2224.7 785.1,2221.4 790.4,2216.4 C795.7,2211.4 800.3,2204.5 805.8,2199.9 C811.3,2195.3 817.8,2192.6 823.5,2188.8 C829.2,2185.0 834.3,2181.5 840.0,2177.0 C845.7,2172.5 851.1,2166.9 857.8,2161.9 C864.4,2156.9 871.6,2152.6 879.9,2147.1 C888.2,2141.6 899.8,2134.2 907.5,2128.7 C915.2,2123.2 918.8,2120.1 925.9,2114.0 C933.0,2107.9 942.2,2098.7 950.0,2092.0 C957.8,2085.3 963.7,2079.6 972.6,2074.0 C981.5,2068.4 993.1,2065.8 1003.3,2058.7 C1013.5,2051.5 1023.7,2041.0 1033.9,2031.1 C1044.1,2021.1 1057.8,2006.5 1064.6,1999.0 C1071.4,1991.5 1070.8,1992.1 1074.5,1985.8 C1078.2,1979.5 1081.7,1968.8 1086.8,1961.3 C1091.9,1953.8 1098.7,1946.1 1105.2,1940.5 C1111.7,1934.9 1120.9,1929.8 1126.0,1927.5 C1131.1,1925.2 1132.1,1926.4 1135.8,1926.4 C1139.5,1926.4 1142.0,1927.3 1148.1,1927.6 C1154.2,1927.9 1167.3,1927.7 1172.6,1928.2 C1177.9,1928.7 1174.9,1927.2 1180.0,1930.7 C1185.1,1934.2 1195.3,1943.4 1203.0,1949.0 C1210.7,1954.6 1219.6,1959.5 1226.0,1964.4 C1232.4,1969.3 1235.4,1971.6 1241.3,1978.2 C1247.2,1984.8 1254.8,1996.8 1261.2,2004.2 C1267.6,2011.6 1272.7,2015.7 1279.6,2022.6 C1286.5,2029.5 1296.2,2038.4 1302.6,2045.6 C1309.0,2052.8 1312.9,2058.3 1318.0,2065.5 C1323.1,2072.7 1327.4,2080.8 1333.3,2088.5 C1339.2,2096.2 1346.8,2104.6 1353.2,2111.5 C1359.6,2118.4 1366.0,2123.5 1371.6,2129.9 C1377.2,2136.3 1383.5,2145.1 1386.9,2150.0 C1390.3,2154.9 1386.0,2152.7 1392.0,2159.4 C1398.0,2166.1 1412.4,2180.9 1422.6,2190.1 C1432.8,2199.3 1443.1,2206.4 1453.3,2214.6 C1463.5,2222.8 1473.7,2231.4 1483.9,2239.1 C1494.1,2246.8 1504.4,2253.4 1514.6,2260.6 C1524.8,2267.8 1535.0,2273.8 1545.2,2282.0 C1555.4,2290.2 1565.7,2300.9 1575.9,2309.6 C1586.1,2318.3 1596.4,2325.5 1606.6,2334.2 C1616.8,2342.9 1627.0,2352.0 1637.2,2361.7 C1647.4,2371.4 1657.7,2382.2 1667.9,2392.4 C1678.1,2402.6 1687.0,2409.4 1698.5,2423.1 C1710.0,2436.8 1725.6,2459.8 1737.2,2474.5 C1748.8,2489.2 1757.7,2499.6 1767.9,2511.3 C1778.1,2523.1 1788.3,2532.2 1798.5,2545.0 C1808.7,2557.8 1820.6,2576.8 1829.2,2588.0 C1837.8,2599.2 1844.3,2603.9 1850.0,2612.0 C1855.7,2620.1 1859.0,2627.8 1863.5,2636.3 C1868.0,2644.9 1870.2,2652.1 1877.0,2663.3 C1883.8,2674.6 1895.0,2691.2 1904.0,2703.8 C1913.0,2716.4 1921.9,2727.6 1930.9,2738.8 C1939.9,2750.0 1948.9,2762.2 1957.9,2771.2 C1966.9,2780.2 1975.9,2786.5 1984.9,2792.8 C1993.9,2799.1 2002.9,2804.5 2011.9,2809.0 C2020.9,2813.5 2029.8,2816.7 2038.8,2819.8 C2047.8,2823.0 2056.8,2826.1 2065.8,2827.9 C2074.8,2829.7 2083.8,2830.1 2092.8,2830.5 C2101.8,2830.9 2110.8,2830.5 2119.8,2830.5 C2128.8,2830.5 2137.7,2831.4 2146.7,2830.5 C2155.7,2829.6 2164.7,2827.0 2173.7,2825.2 C2182.7,2823.4 2191.7,2822.1 2200.7,2819.8 C2209.7,2817.6 2216.1,2814.6 2227.7,2811.7 C2239.2,2808.8 2262.9,2803.8 2270.0,2802.2" stroke="#4DBEEE" stroke-dasharray="27 5 15 5"/>
</g>
<g stroke="#262626" stroke-width="3.2" fill="none">
<line x1="2271" y1="1708" x2="2271" y2="2961" stroke="#555" stroke-width="3.8"/>
<line x1="346.5" y1="2961" x2="346.5" y2="2941"/>
<line x1="346.5" y1="1708" x2="346.5" y2="1728"/>
<line x1="827.6" y1="2961" x2="827.6" y2="2941"/>
<line x1="827.6" y1="1708" x2="827.6" y2="1728"/>
<line x1="1308.8" y1="2961" x2="1308.8" y2="2941"/>
<line x1="1308.8" y1="1708" x2="1308.8" y2="1728"/>
<line x1="1789.9" y1="2961" x2="1789.9" y2="2941"/>
<line x1="1789.9" y1="1708" x2="1789.9" y2="1728"/>
<line x1="2271.0" y1="2961" x2="2271.0" y2="2941"/>
<line x1="2271.0" y1="1708" x2="2271.0" y2="1728"/>
<line x1="294" y1="2797.6" x2="314" y2="2797.6"/>
<line x1="2271" y1="2797.6" x2="2251" y2="2797.6"/>
<line x1="294" y1="2525.2" x2="314" y2="2525.2"/>
<line x1="2271" y1="2525.2" x2="2251" y2="2525.2"/>
<line x1="294" y1="2252.8" x2="314" y2="2252.8"/>
<line x1="2271" y1="2252.8" x2="2251" y2="2252.8"/>
<line x1="294" y1="1980.4" x2="314" y2="1980.4"/>
<line x1="2271" y1="1980.4" x2="2251" y2="1980.4"/>
<path d="M2272.6,1708 H294 V2961 H2272.6" fill="none"/>
</g>
<g class="t" fill="#262626" font-size="91">
<text x="268" y="2991.5" text-anchor="end">4.2</text>
<text x="268" y="2828.1" text-anchor="end">4.5</text>
<text x="268" y="2555.7" text-anchor="end">5.0</text>
<text x="268" y="2283.3" text-anchor="end">5.5</text>
<text x="268" y="2010.9" text-anchor="end">6.0</text>
<text x="268" y="1738.5" text-anchor="end">6.5</text>
<text x="346.5" y="3066.0" text-anchor="middle">0.0</text>
<text x="827.6" y="3066.0" text-anchor="middle">450</text>
<text x="1308.8" y="3066.0" text-anchor="middle">900</text>
<text x="1789.9" y="3066.0" text-anchor="middle">1350</text>
<text x="2271.0" y="3066.0" text-anchor="middle">1800</text>
</g>
<text class="t" x="1284" y="3181" font-size="100" fill="#262626" text-anchor="middle">time [s]</text>
<text class="t" transform="translate(97,2329.6) rotate(-90)" font-size="100.8" fill="#262626" text-anchor="middle">Temperature [K]</text>
<text class="t" x="1238.5" y="3281" font-size="76" fill="#000" text-anchor="middle">(<tspan font-weight="bold">b</tspan>)</text>
<!-- legend b -->
<rect x="1733" y="1810" width="481" height="347" fill="#fff" stroke="#262626" stroke-width="3.2"/>
<g stroke-width="9.0" fill="none">
<line x1="1740" y1="1870" x2="1808" y2="1870" stroke="#0072BD"/>
<line x1="1740" y1="1983" x2="1808" y2="1983" stroke="#D95319"/>
<line x1="1740" y1="2096" x2="1808" y2="2096" stroke="#EDB120"/>
<line x1="1976.5" y1="1870" x2="2037" y2="1870" stroke="#7E2F8E" stroke-dasharray="34 9 17 9"/>
<line x1="1976.5" y1="1983" x2="2037" y2="1983" stroke="#77AC30" stroke-dasharray="34 9 17 9"/>
<line x1="1976.5" y1="2096" x2="2037" y2="2096" stroke="#4DBEEE" stroke-dasharray="34 9 17 9"/>
</g>
<g class="t" font-size="63" fill="#000">
<text x="1814" y="1893">CS3L</text>
<text x="1814" y="2006">CS2L</text>
<text x="1814" y="2119">CS1L</text>
<text x="2048.5" y="1893">CS1U</text>
<text x="2048.5" y="2006">CS2U</text>
<text x="2048.5" y="2119">CS3U</text>
</g>
</svg>
</body></html>
